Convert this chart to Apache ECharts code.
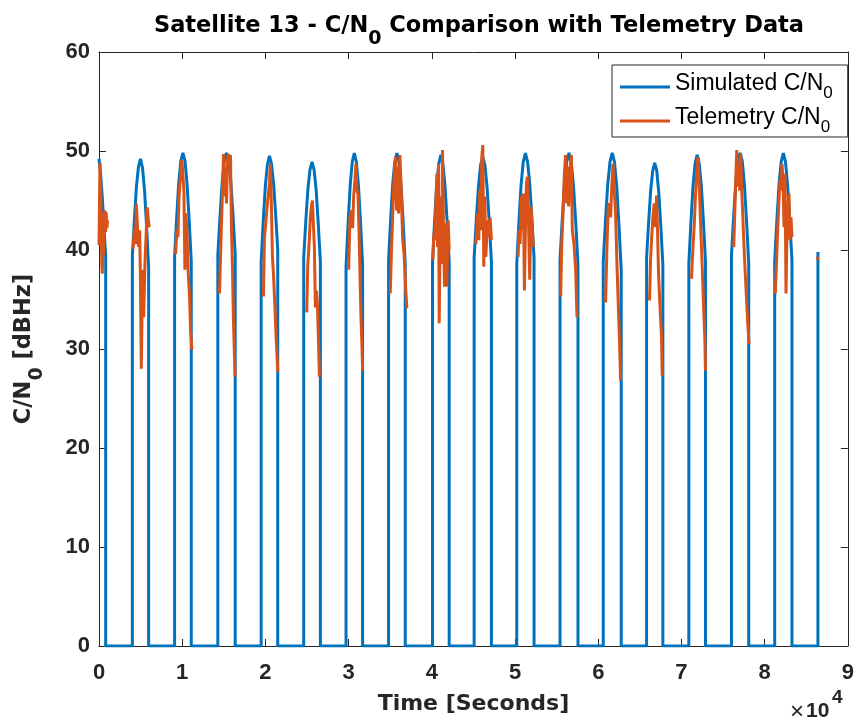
<!DOCTYPE html>
<html>
<head>
<meta charset="utf-8">
<script src="https://cdn.jsdelivr.net/npm/echarts@6/dist/echarts.min.js"></script>
<style>
  html, body { margin: 0; padding: 0; background: #ffffff; }
  #chart { width: 857px; height: 724px; }
</style>
</head>
<body>
<div id="chart"></div>
<script>
// ---- Simulated C/N0: visibility windows (seconds) and sampled profile per pass ----
const simFirstPass = [[0, 49.2], [200, 47.6], [400, 45.3], [600, 42.3], [804, 39.3]];
const passStart = [4008, 9084, 14280, 19488, 24600, 29688, 34800, 40080, 45084, 50208, 55404, 60600, 65808, 70884, 76008, 81204];
const passEnd   = [5964, 11088, 16368, 21480, 26604, 31680, 36804, 42084, 47160, 52284, 57564, 62760, 67764, 72888, 78084, 83280];
// nine evenly spaced samples across each pass, in dBHz
const simProfiles = [
  [39.4, 43.1, 46.4, 48.4, 49.2, 48.3, 46.0, 42.4, 38.3],
  [39.3, 43.3, 46.8, 49.0, 49.8, 49.0, 46.6, 43.0, 38.8],
  [39.5, 43.4, 46.8, 49.0, 49.8, 49.0, 46.8, 43.5, 39.6],
  [38.8, 42.9, 46.4, 48.6, 49.5, 48.7, 46.7, 43.6, 40.0],
  [39.2, 42.9, 46.1, 48.1, 48.9, 48.1, 46.0, 42.6, 38.8],
  [38.3, 42.7, 46.5, 48.9, 49.8, 48.9, 46.5, 42.8, 38.5],
  [39.0, 43.1, 46.7, 48.9, 49.8, 48.9, 46.5, 42.8, 38.5],
  [38.8, 42.9, 46.5, 48.7, 49.6, 48.7, 46.5, 42.9, 38.8],
  [39.2, 43.1, 46.4, 48.6, 49.4, 48.6, 46.3, 42.8, 38.8],
  [38.6, 42.9, 46.6, 48.9, 49.8, 48.9, 46.7, 43.2, 39.2],
  [39.0, 43.1, 46.7, 48.9, 49.8, 48.9, 46.5, 42.8, 38.5],
  [38.8, 43.0, 46.6, 48.9, 49.8, 48.9, 46.4, 42.5, 38.0],
  [39.2, 42.8, 46.0, 48.0, 48.8, 48.0, 45.8, 42.4, 38.5],
  [38.6, 42.8, 46.4, 48.7, 49.6, 48.7, 46.5, 42.9, 38.8],
  [39.4, 43.4, 46.8, 49.0, 49.8, 49.0, 46.6, 42.9, 38.6],
  [38.8, 43.0, 46.6, 48.9, 49.8, 48.9, 46.5, 43.0, 38.9]
];
const simLastPoint = [86400, 39.8];

// ---- Telemetry C/N0 per pass: [time s, dBHz] ----
const tlmPass01 = [[0, 40.5], [60, 45.0], [120, 48.8], [200, 46.5], [280, 42.0], [340, 38.5], [400, 37.6], [470, 41.0], [540, 39.5], [620, 43.5], [700, 44.0], [780, 41.8], [860, 43.8], [940, 42.2], [1040, 43.0]];
const tlmPass02 = [[4084, 40.1], [4284, 42.3], [4404, 40.6], [4484, 44.7], [4644, 42.0], [4764, 40.3], [4884, 42.0], [4964, 38.0], [5084, 28.0], [5164, 33.2], [5244, 38.0], [5364, 33.2], [5524, 38.6], [5684, 42.0], [5804, 44.3], [5924, 43.0], [6044, 42.3]];
const tlmPass03 = [[9204, 39.6], [9364, 42.0], [9484, 41.3], [9604, 45.0], [9724, 46.7], [9844, 48.1], [9964, 49.1], [10084, 49.2], [10204, 46.0], [10324, 38.0], [10444, 43.7], [10564, 42.0], [10724, 37.6], [10884, 35.3], [11004, 31.9], [11164, 29.9]];
const tlmPass04 = [[14484, 35.6], [14604, 39.3], [14724, 42.7], [14844, 46.0], [14964, 49.7], [15084, 45.4], [15204, 48.4], [15324, 44.7], [15444, 49.1], [15564, 49.7], [15684, 48.7], [15804, 49.6], [15924, 42.0], [16044, 38.0], [16164, 32.6], [16284, 29.2], [16364, 27.2]];
const tlmPass05 = [[19764, 35.3], [19884, 41.3], [20004, 42.3], [20164, 44.0], [20324, 45.4], [20484, 46.7], [20604, 48.7], [20724, 44.3], [20844, 39.3], [20964, 37.6], [21124, 34.6], [21284, 31.2], [21484, 27.7]];
const tlmPass06 = [[24964, 33.7], [25084, 38.3], [25244, 40.6], [25404, 43.3], [25524, 44.4], [25644, 45.0], [25764, 45.0], [25884, 40.3], [26004, 34.2], [26124, 35.9], [26244, 34.6], [26364, 31.2], [26484, 27.2]];
const tlmPass07 = [[30004, 38.0], [30164, 43.3], [30324, 44.0], [30484, 42.2], [30604, 45.4], [30764, 47.1], [30884, 48.7], [31004, 46.0], [31124, 45.7], [31244, 42.0], [31364, 37.6], [31484, 33.2], [31604, 30.2], [31684, 27.8]];
const tlmPass08 = [[35004, 35.6], [35164, 40.3], [35284, 43.3], [35404, 46.0], [35524, 48.4], [35644, 49.4], [35764, 44.0], [35884, 48.4], [36004, 43.7], [36164, 49.6], [36324, 46.0], [36484, 41.3], [36684, 39.3], [36844, 36.3], [37004, 34.1]];
const tlmPass09 = [[40124, 39.0], [40244, 41.7], [40364, 41.0], [40484, 44.7], [40604, 47.7], [40684, 40.3], [40804, 48.7], [40884, 32.6], [41004, 42.0], [41084, 45.4], [41204, 38.6], [41284, 50.1], [41404, 42.0], [41524, 36.3], [41684, 42.7], [41804, 36.3], [41964, 43.0], [42084, 40.0]];
const tlmPass10 = [[45284, 40.6], [45404, 42.0], [45524, 43.7], [45644, 41.0], [45764, 46.0], [45884, 42.0], [46004, 49.4], [46124, 50.6], [46244, 38.3], [46364, 45.4], [46484, 39.3], [46604, 41.3], [46764, 43.0], [46884, 41.3], [47004, 43.3], [47164, 41.0]];
const tlmPass11 = [[50364, 39.3], [50484, 42.0], [50604, 40.6], [50764, 45.4], [50884, 42.0], [51004, 45.7], [51124, 35.9], [51244, 42.0], [51364, 46.7], [51484, 47.4], [51604, 43.3], [51764, 37.0], [51924, 44.4], [52084, 42.0], [52204, 40.3]];
const tlmPass12 = [[55484, 35.3], [55604, 40.3], [55764, 43.7], [55924, 47.7], [56084, 49.6], [56204, 44.7], [56324, 48.4], [56444, 44.4], [56604, 48.1], [56764, 49.6], [56884, 42.0], [57084, 40.6], [57284, 38.0], [57444, 33.2]];
const tlmPass13 = [[60884, 34.7], [61044, 40.3], [61204, 44.4], [61364, 44.7], [61484, 43.3], [61604, 46.0], [61764, 48.7], [61924, 46.0], [62084, 43.7], [62244, 38.6], [62404, 34.6], [62564, 30.5], [62684, 26.8]];
const tlmPass14 = [[66164, 34.9], [66284, 39.0], [66404, 41.0], [66564, 43.3], [66724, 44.7], [66884, 42.3], [67004, 45.5], [67124, 42.0], [67244, 37.6], [67364, 35.3], [67484, 33.2], [67604, 31.2], [67684, 27.3]];
const tlmPass15 = [[71204, 37.1], [71364, 40.0], [71524, 42.3], [71684, 45.4], [71844, 48.1], [72004, 49.4], [72164, 46.0], [72324, 42.0], [72484, 38.6], [72644, 34.6], [72804, 31.2], [72884, 27.8]];
const tlmPass16 = [[76284, 40.3], [76404, 43.7], [76524, 47.1], [76644, 50.1], [76764, 46.4], [76884, 48.7], [77004, 46.0], [77124, 49.7], [77244, 46.0], [77364, 43.7], [77484, 41.0], [77644, 38.0], [77804, 35.3], [77964, 32.6], [78124, 30.5]];
const tlmPass17 = [[81284, 35.6], [81444, 39.3], [81564, 42.0], [81684, 44.4], [81844, 47.1], [81964, 46.0], [82084, 48.7], [82204, 47.1], [82324, 42.3], [82444, 47.7], [82564, 35.6], [82684, 42.0], [82804, 44.4], [82924, 45.7], [83044, 41.0], [83164, 43.3], [83284, 41.3]];
const tlmPass18 = [[86330, 39.0], [86400, 39.3]];
const telemetryPasses = [tlmPass01, tlmPass02, tlmPass03, tlmPass04, tlmPass05, tlmPass06, tlmPass07, tlmPass08, tlmPass09,
  tlmPass10, tlmPass11, tlmPass12, tlmPass13, tlmPass14, tlmPass15, tlmPass16, tlmPass17, tlmPass18];

// ---- axis ranges ----
const xRange = [0, 90000], xStep = 10000;
const yRange = [0, 60], yStep = 10;

// ---- assemble series data ----
const simulated = [];
simFirstPass.forEach(p => simulated.push(p));
simulated.push([simFirstPass[simFirstPass.length - 1][0], 0]);
passStart.forEach((s, i) => {
  const e = passEnd[i];
  const prof = simProfiles[i];
  const n = prof.length - 1;
  simulated.push([s, 0]);
  prof.forEach((v, k) => simulated.push([Math.round(s + (e - s) * k / n), v]));
  simulated.push([e, 0]);
});
simulated.push([simLastPoint[0], 0]);
simulated.push(simLastPoint);

const telemetry = [];
telemetryPasses.forEach((pass, i) => {
  if (i > 0) telemetry.push([pass[0][0] - 1, '-']);
  pass.forEach(p => telemetry.push(p));
});

const INK = '#262626';
const FONT = '"Liberation Sans", Arial, Helvetica, sans-serif';
const HEAD = '"DejaVu Sans", "Liberation Sans", Arial, sans-serif';

const frameAxis = (pos, range, step) => ({
  type: 'value', position: pos, min: range[0], max: range[1], interval: step,
  axisLine: { show: true, onZero: false, lineStyle: { color: INK, width: 1 } },
  axisTick: { show: true, inside: true, length: 7, lineStyle: { color: INK, width: 1 } },
  axisLabel: { show: false }, splitLine: { show: false }
});

const chart = echarts.init(document.getElementById('chart'), null, { renderer: 'canvas' });
chart.setOption({
  animation: false,
  backgroundColor: '#ffffff',
  title: {
    text: '{t|Satellite 13 - C/N}{s|0}{t| Comparison with Telemetry Data}',
    left: 474, top: 10, textAlign: 'center',
    textStyle: {
      rich: {
        t: { fontFamily: HEAD, fontSize: 22.5, fontWeight: 'bold', color: '#000', verticalAlign: 'bottom', padding: [0, 0, 11, 0] },
        s: { fontFamily: HEAD, fontSize: 19, fontWeight: 'bold', color: '#000', verticalAlign: 'bottom' }
      }
    }
  },
  grid: { left: 99, right: 7, top: 52, bottom: 78, containLabel: false },
  legend: {
    left: 612, top: 65, orient: 'vertical',
    backgroundColor: '#ffffff', borderColor: INK, borderWidth: 1,
    padding: [7, 15, 1, 8], itemGap: 4,
    itemWidth: 50, itemHeight: 3, icon: 'rect',
    data: ['Simulated', 'Telemetry'],
    formatter: name => '{a|' + name + ' C/N}{s|0}',
    textStyle: {
      rich: {
        a: { fontFamily: FONT, fontSize: 23, color: '#000', verticalAlign: 'bottom', padding: [0, 0, 7, 0] },
        s: { fontFamily: FONT, fontSize: 17, color: '#000', verticalAlign: 'bottom' }
      }
    }
  },
  xAxis: [
    {
      type: 'value', position: 'bottom', min: xRange[0], max: xRange[1], interval: xStep,
      axisLine: { show: true, onZero: false, lineStyle: { color: INK, width: 1 } },
      axisTick: { show: true, inside: true, length: 7, lineStyle: { color: INK, width: 1 } },
      axisLabel: { formatter: v => String(v / 10000), fontFamily: FONT, fontSize: 22, fontWeight: 'bold', color: INK, margin: 16 },
      splitLine: { show: false },
      name: 'Time [Seconds]', nameLocation: 'middle', nameGap: 47,
      nameTextStyle: { fontFamily: HEAD, fontSize: 22, fontWeight: 'bold', color: INK }
    },
    frameAxis('top', xRange, xStep)
  ],
  yAxis: [
    {
      type: 'value', position: 'left', min: yRange[0], max: yRange[1], interval: yStep,
      axisLine: { show: true, onZero: false, lineStyle: { color: INK, width: 1 } },
      axisTick: { show: true, inside: true, length: 7, lineStyle: { color: INK, width: 1 } },
      axisLabel: { fontFamily: FONT, fontSize: 22, fontWeight: 'bold', color: INK, margin: 9 },
      splitLine: { show: false },
      name: '{t|C/N}{s|0}{t| [dBHz]}', nameLocation: 'middle', nameGap: 52, nameRotate: 90,
      nameTextStyle: {
        rich: {
          t: { fontFamily: HEAD, fontSize: 22.5, fontWeight: 'bold', color: INK, verticalAlign: 'bottom', padding: [0, 0, 11, 0] },
          s: { fontFamily: HEAD, fontSize: 19, fontWeight: 'bold', color: INK, verticalAlign: 'bottom' }
        }
      }
    },
    frameAxis('right', yRange, yStep)
  ],
  graphic: [
    { type: 'text', left: 790, top: 700, style: { text: '×', fontFamily: FONT, fontSize: 24, fill: INK } },
    { type: 'text', left: 806, top: 701, style: { text: '10', fontFamily: FONT, fontSize: 21, fontWeight: 'bold', fill: INK } },
    { type: 'text', left: 832, top: 688, style: { text: '4', fontFamily: FONT, fontSize: 19, fontWeight: 'bold', fill: INK } }
  ],
  series: [
    {
      name: 'Simulated', type: 'line', xAxisIndex: 0, yAxisIndex: 0,
      data: simulated, showSymbol: false, symbol: 'none',
      lineStyle: { color: '#0072BD', width: 3 }, itemStyle: { color: '#0072BD' },
      z: 2
    },
    {
      name: 'Telemetry', type: 'line', xAxisIndex: 0, yAxisIndex: 0,
      data: telemetry, showSymbol: false, symbol: 'none', connectNulls: false,
      lineStyle: { color: '#D95319', width: 3 }, itemStyle: { color: '#D95319' },
      z: 3
    }
  ]
});
</script>
</body>
</html>
